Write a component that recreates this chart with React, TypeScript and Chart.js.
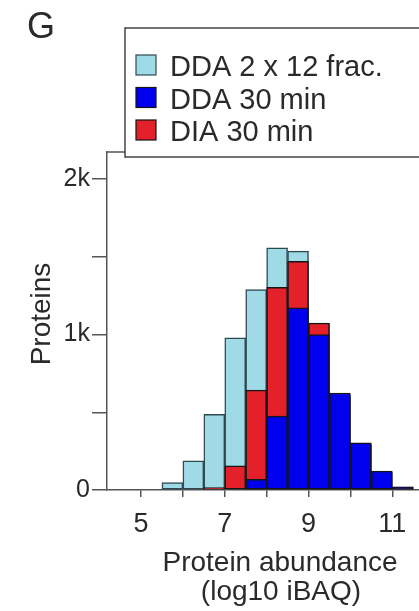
import React, { useEffect, useRef } from "react";
import { Chart, registerables } from "chart.js";

Chart.register(...registerables);

// ---- data ----
const binStarts = [5.5, 6.0, 6.5, 7.0, 7.5, 8.0, 8.5, 9.0, 9.5, 10.0, 10.5, 11.0];
const binWidth = 0.5;
const ddaFracValues = [47, 187, 486, 978, 1289, 1557, 1536, 1070, 600, 290, 110, 15];
const dda30Values = [0, 0, 0, 0, 69, 475, 1171, 1000, 624, 303, 121, 21];
const dia30Values = [0, 0, 16, 155, 642, 1304, 1471, 1074, 610, 295, 115, 18];
const seriesLabels = ["DDA 2 x 12 frac.", "DDA 30 min", "DIA 30 min"];
const xTickValues = [5, 6, 7, 8, 9, 10, 11];
const xTickLabels = ["5", "", "7", "", "9", "", "11"];
const yTickValues = [0, 500, 1000, 1500, 2000];
const yTickLabels = ["0", "", "1k", "", "2k"];
const panelLetter = "G";
const yTitle = "Proteins";
const xTitleLines = ["Protein abundance", "(log10 iBAQ)"];

const FONT = '"Liberation Sans", Arial, Helvetica, sans-serif';
const AXIS = "#555";
const TEXT = "#2a2a2a";
const C_LIGHT = "#9fdae6";
const C_BLUE = "#0000ee";
const C_RED = "#e4202a";
const B_LIGHT = "#2e4a50";
const B_DARK = "#151515";

const toPoints = (vals: number[]) =>
  vals.map((v, i) => ({ x: binStarts[i] + binWidth / 2, y: v > 0 ? v : null }));

const overlayPlugin = {
  id: "overlay",
  afterDraw(chart: any) {
    const ctx = chart.ctx as CanvasRenderingContext2D;
    const W = chart.width + 40;
    const { left, top, right } = chart.chartArea;
    ctx.save();
    // top frame line
    ctx.strokeStyle = AXIS;
    ctx.lineWidth = 1.5;
    ctx.beginPath();
    ctx.moveTo(left, top);
    ctx.lineTo(right, top);
    ctx.stroke();

    // panel letter
    ctx.fillStyle = TEXT;
    ctx.textBaseline = "alphabetic";
    ctx.textAlign = "left";
    ctx.font = `36px ${FONT}`;
    ctx.fillText(panelLetter, 27, 38);

    // legend box (right side runs off the picture)
    ctx.fillStyle = "#fff";
    ctx.fillRect(125, 28, W - 125, 129);
    ctx.strokeStyle = "#444";
    ctx.lineWidth = 1.5;
    ctx.beginPath();
    ctx.moveTo(125, 28);
    ctx.lineTo(W, 28);
    ctx.stroke();
    ctx.beginPath();
    ctx.moveTo(125, 27.25);
    ctx.lineTo(125, 157.75);
    ctx.stroke();
    ctx.beginPath();
    ctx.moveTo(125, 157);
    ctx.lineTo(W, 157);
    ctx.stroke();
    const ds = chart.data.datasets;
    const legendOrder = [2, 0, 1];
    legendOrder.forEach((di: number, i: number) => {
      const d = ds[di];
      const y = 55 + i * 32.5;
      ctx.fillStyle = d.backgroundColor;
      ctx.fillRect(136, y, 20, 20);
      ctx.strokeStyle = d.borderColor;
      ctx.lineWidth = 1.2;
      ctx.strokeRect(136, y, 20, 20);
      ctx.fillStyle = TEXT;
      ctx.font = `29px ${FONT}`;
      ctx.textAlign = "left";
      ctx.fillText(d.label, 170, y + 21);
    });

    // y title
    ctx.save();
    ctx.translate(50, 314);
    ctx.rotate(-Math.PI / 2);
    ctx.textAlign = "center";
    ctx.font = `28px ${FONT}`;
    ctx.fillStyle = TEXT;
    ctx.fillText(yTitle, 0, 0);
    ctx.restore();

    // x title
    ctx.textAlign = "center";
    ctx.font = `28px ${FONT}`;
    ctx.fillStyle = TEXT;
    ctx.fillText(xTitleLines[0], 280, 571);
    ctx.fillText(xTitleLines[1], 281, 600);
    ctx.restore();
  },
};

export default function App() {
  const ref = useRef<HTMLCanvasElement | null>(null);
  useEffect(() => {
    if (!ref.current) return;
    const common = {
      borderWidth: 1.5,
      borderSkipped: false,
      barPercentage: 1,
      categoryPercentage: 1,
      grouped: false,
    };
    const chart = new Chart(ref.current, {
      type: "bar",
      data: {
        datasets: [
          { label: seriesLabels[1], data: toPoints(dda30Values), backgroundColor: C_BLUE, borderColor: B_DARK, ...common },
          { label: seriesLabels[2], data: toPoints(dia30Values), backgroundColor: C_RED, borderColor: B_DARK, ...common },
          { label: seriesLabels[0], data: toPoints(ddaFracValues), backgroundColor: C_LIGHT, borderColor: B_LIGHT, ...common },
        ] as any,
      },
      options: {
        responsive: false,
        animation: false,
        devicePixelRatio: 1,
        layout: { padding: { top: 152, left: 0, right: 0, bottom: 0 } },
        plugins: { legend: { display: false }, tooltip: { enabled: false }, title: { display: false } },
        scales: {
          x: {
            type: "linear",
            offset: false,
            min: 4.188,
            max: 11.638,
            afterBuildTicks: (s: any) => {
              s.ticks = xTickValues.map((v) => ({ value: v }));
            },
            afterFit: (s: any) => {
              s.height = 121;
            },
            ticks: {
              autoSkip: false,
              maxRotation: 0,
              padding: 11,
              color: TEXT,
              font: { family: FONT, size: 27 },
              callback: (_v: any, i: number) => xTickLabels[i],
            },
            grid: { offset: false, drawOnChartArea: false, drawTicks: true, tickLength: 7, color: AXIS, lineWidth: 1.5 },
            border: { display: true, color: AXIS, width: 1.5 },
          },
          y: {
            type: "linear",
            min: 0,
            max: 2174,
            afterBuildTicks: (s: any) => {
              s.ticks = yTickValues.map((v) => ({ value: v }));
            },
            afterFit: (s: any) => {
              s.width = 107;
            },
            ticks: {
              padding: 2,
              color: TEXT,
              font: { family: FONT, size: 25 },
              callback: (_v: any, i: number) => yTickLabels[i],
            },
            grid: { drawOnChartArea: false, drawTicks: true, tickLength: 15, color: AXIS, lineWidth: 1.5 },
            border: { display: true, color: AXIS, width: 1.5 },
          },
        },
      } as any,
      plugins: [overlayPlugin],
    });
    return () => chart.destroy();
  }, []);
  return (
    <div style={{ position: "fixed", left: 0, top: 0, width: 419, height: 611, background: "#fff", overflow: "hidden" }}>
      <canvas ref={ref} width={419} height={611} style={{ display: "block" }} />
    </div>
  );
}
